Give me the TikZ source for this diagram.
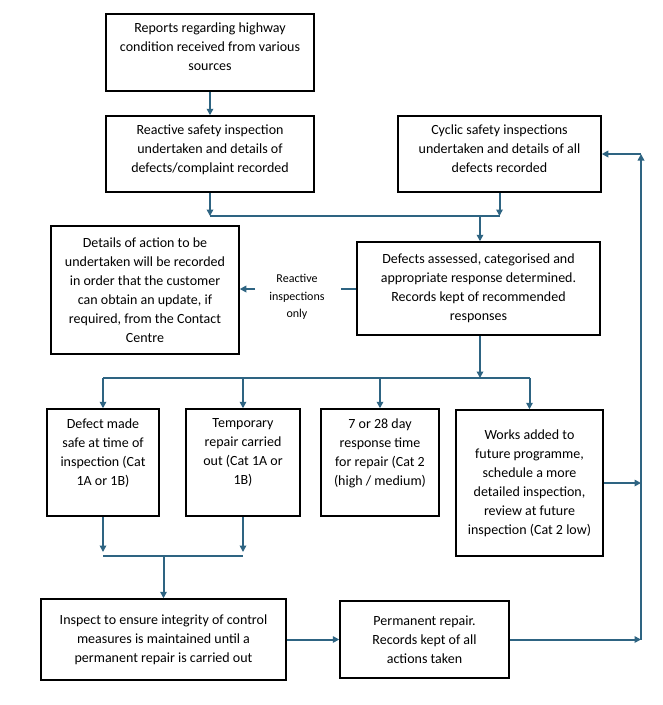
\documentclass[tikz,border=0pt]{standalone}
\usepackage{fontspec}
\setmainfont{Carlito}
\usetikzlibrary{arrows.meta}
\definecolor{arr}{RGB}{46,100,130}
\begin{document}
\begin{tikzpicture}[x=1pt,y=-1pt,
  box/.style={draw=black,line width=1.5pt,align=center,inner sep=0pt,
    font=\fontsize{14}{19}\selectfont},
  conn/.style={draw=arr,line width=2pt},
  arw/.style={conn,-{Triangle[length=6.5pt,width=6.5pt]}},
  lbl/.style={align=center,inner sep=0pt,font=\fontsize{12}{17.5}\selectfont}]
\useasboundingbox (0,0) rectangle (663,705);
\fill[white] (0,0) rectangle (663,705);

\node[box,minimum width=208pt,minimum height=77pt] (b1) at (210,52.5)
  {Reports regarding highway\\condition received from various\\sources\\[-8pt]};
\node[box,minimum width=208pt,minimum height=76pt] (b2) at (210,154)
  {Reactive safety inspection\\undertaken and details of\\defects/complaint recorded\\[-8pt]};
\node[box,minimum width=203pt,minimum height=76pt] (b3) at (499.5,154)
  {Cyclic safety inspections\\undertaken and details of all\\defects recorded\\[-8pt]};
\node[box,minimum width=243pt,minimum height=93pt] (b4) at (478.5,288.5)
  {Defects assessed, categorised and\\appropriate response determined.\\Records kept of recommended\\responses};
\node[box,minimum width=188pt,minimum height=128pt] (b5) at (145,290)
  {Details of action to be\\undertaken will be recorded\\in order that the customer\\can obtain an update, if\\required, from the Contact\\Centre};
\node[lbl] (rl) at (297,297) {Reactive\\inspections\\only};
\node[box,minimum width=112pt,minimum height=107pt] (b6) at (103,462.5)
  {Defect made\\safe at time of\\inspection (Cat\\1A or 1B)\\[2pt]};
\node[box,minimum width=114pt,minimum height=107pt] (b7) at (243,462.5)
  {Temporary\\repair carried\\out (Cat 1A or\\1B)\\[2pt]};
\node[box,minimum width=118pt,minimum height=107pt] (b8) at (380,462.5)
  {7 or 28 day\\response time\\for repair (Cat 2\\(high / medium)\\[2pt]};
\node[box,minimum width=147pt,minimum height=146pt] (b9) at (529.5,483)
  {Works added to\\future programme,\\schedule a more\\detailed inspection,\\review at future\\inspection (Cat 2 low)};
\node[box,minimum width=245pt,minimum height=81pt] (b10) at (163.5,639.5)
  {Inspect to ensure integrity of control\\measures is maintained until a\\permanent repair is carried out};
\node[box,minimum width=169pt,minimum height=77pt] (b11) at (424.5,639.5)
  {Permanent repair.\\Records kept of all\\actions taken};

% merge points
\coordinate (m1) at (210,216);
\coordinate (m2) at (499.5,216);
\coordinate (m3) at (480,216);
\coordinate (r1) at (341,289);
\coordinate (r2) at (255,289);
\coordinate (s0) at (480,378);
\coordinate (s1) at (103,378);
\coordinate (s2) at (243,378);
\coordinate (s3) at (380,378);
\coordinate (s4) at (529.5,378);
\coordinate (j1) at (103,552);
\coordinate (j2) at (243,552);
\coordinate (k1) at (103,556);
\coordinate (k2) at (243,556);
\coordinate (k3) at (163.5,556);
\coordinate (v0) at (641,639.5);
\coordinate (v1) at (641,483);
\coordinate (v2) at (641,154);

\draw[arw] (b1) -- (b2);
\draw[arw] (b2.south) -- (m1);
\draw[arw] (b3.south) -- (m2);
\draw[conn] (m1) -- (m2);
\draw[arw] (m3) -- (b4.north -| m3);
\draw[conn] (b4.west |- r1) -- (r1);
\draw[arw] (r2) -- (b5.east |- r2);
\draw[arw] (b4.south -| s0) -- (s0);
\draw[conn] (s1) -- (s4);
\draw[arw] (s1) -- (b6.north);
\draw[arw] (s2) -- (b7.north);
\draw[arw] (s3) -- (b8.north);
\draw[arw] (s4) -- (b9.north);
\draw[arw] (b6.south) -- (j1);
\draw[arw] (b7.south) -- (j2);
\draw[conn] (k1) -- (k2);
\draw[arw] (k3) -- (b10.north);
\draw[arw] (b10) -- (b11);
\draw[arw] (b11.east) -- (v0);
\draw[arw] (b9.east |- v1) -- (v1);
\draw[arw] (v0) -- (v2);
\draw[arw] (v2) -- (b3.east);
\end{tikzpicture}
\end{document}
